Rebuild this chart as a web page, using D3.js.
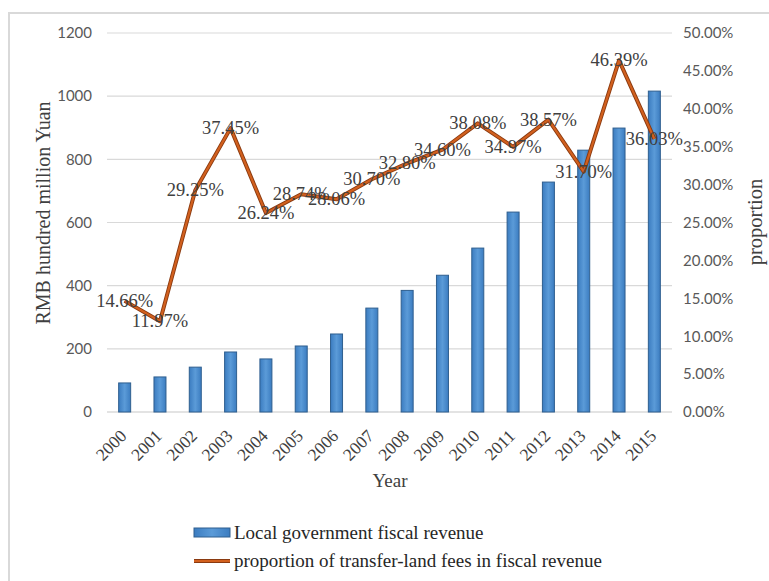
<!DOCTYPE html>
<html><head><meta charset="utf-8">
<script src="https://cdn.jsdelivr.net/npm/d3@7"></script>
<style>body{margin:0;background:#fff}</style>
</head><body>
<svg id="c" width="769" height="581"></svg>
<script>
const years = ["2000","2001","2002","2003","2004","2005","2006","2007","2008","2009","2010","2011","2012","2013","2014","2015"];
const revenue = [92,111,142,190,168,209,247,329,385,433,519,633,728,829,899,1016];
const proportion = [14.66,11.97,29.25,37.45,26.24,28.74,28.06,30.70,32.80,34.60,38.08,34.97,38.57,31.70,46.39,36.03];
const leftTicks = [0,200,400,600,800,1000,1200];
const rightTicks = [0,5,10,15,20,25,30,35,40,45,50];

const svg = d3.select("#c");
const L = 107, R = 672, T = 33, B = 412;
const x = d3.scaleBand().domain(years).range([L, R]);
const yL = d3.scaleLinear().domain([0,1200]).range([B, T]);
const yR = d3.scaleLinear().domain([0,50]).range([B, T]);
const serif = "'Liberation Serif', 'DejaVu Serif', serif";
const sans = "Lato, 'Open Sans', sans-serif";

// frame
svg.append("path").attr("d","M9,581 L9,13 L769,13").attr("fill","none").attr("stroke","#d9d9d9").attr("stroke-width",2);

// gridlines
svg.append("g").selectAll("line").data(leftTicks).join("line")
  .attr("x1",L).attr("x2",R).attr("y1",d=>yL(d)).attr("y2",d=>yL(d))
  .attr("stroke",d=>d===0?"#c8c8c8":"#d9d9d9").attr("stroke-width",1.2);

// left axis
const gl = svg.append("g").attr("transform",`translate(${L},0)`)
  .call(d3.axisLeft(yL).tickValues(leftTicks).tickSize(0).tickPadding(15).tickFormat(d3.format("d")));
gl.select(".domain").remove();
gl.selectAll("text").attr("font-family",sans).attr("font-size",15).attr("fill","#595959");

// right axis
const gr = svg.append("g").attr("transform",`translate(${R},0)`)
  .call(d3.axisRight(yR).tickValues(rightTicks).tickSize(0).tickPadding(11).tickFormat(d=>d.toFixed(2)+"%"));
gr.select(".domain").remove();
gr.selectAll("text").attr("font-family",sans).attr("font-size",15).attr("fill","#595959");

// x axis labels
const gx = svg.append("g").attr("transform",`translate(0,${B})`)
  .call(d3.axisBottom(x).tickSize(0).tickPadding(0));
gx.select(".domain").remove();
gx.selectAll("text")
  .attr("font-family",serif).attr("font-size",17.5).attr("fill","#404040")
  .attr("text-anchor","end").attr("dy",0)
  .attr("transform","translate(3,25) rotate(-45)");

// bars
const bw = 12;
const grad = svg.append("defs").append("linearGradient").attr("id","bg").attr("x1",0).attr("x2",1);
grad.append("stop").attr("offset","0%").attr("stop-color","#3b7cc0");
grad.append("stop").attr("offset","50%").attr("stop-color","#5b9bd8");
grad.append("stop").attr("offset","100%").attr("stop-color","#3b7cc0");
svg.append("g").selectAll("rect").data(revenue).join("rect")
  .attr("x",(d,i)=>x(years[i])+x.bandwidth()/2-bw/2)
  .attr("width",bw)
  .attr("y",d=>yL(d)).attr("height",d=>B-yL(d))
  .attr("fill","url(#bg)").attr("stroke","#2f5f8f").attr("stroke-width",1);

// line
const line = d3.line().x((d,i)=>x(years[i])+x.bandwidth()/2).y(d=>yR(d));
svg.append("path").datum(proportion).attr("d",line).attr("fill","none")
  .attr("stroke","#8a3a10").attr("stroke-width",4).attr("stroke-linejoin","round");
svg.append("path").datum(proportion).attr("d",line).attr("fill","none")
  .attr("stroke","#d2601e").attr("stroke-width",2.2).attr("stroke-linejoin","round");

// data labels
svg.append("g").selectAll("text").data(proportion).join("text")
  .attr("x",(d,i)=>x(years[i])+x.bandwidth()/2)
  .attr("y",d=>yR(d)+6)
  .attr("text-anchor","middle")
  .attr("font-family",serif).attr("font-size",18.5).attr("fill","#404040")
  .text(d=>d.toFixed(2)+"%");

// axis titles
svg.append("text").attr("transform",`translate(50,213) rotate(-90)`).attr("text-anchor","middle")
  .attr("font-family",serif).attr("font-size",20).attr("fill","#404040")
  .text("RMB hundred million Yuan");
svg.append("text").attr("transform",`translate(762,222) rotate(-90)`).attr("text-anchor","middle")
  .attr("font-family",serif).attr("font-size",20.5).attr("fill","#404040")
  .text("proportion");
svg.append("text").attr("x",390).attr("y",487).attr("text-anchor","middle")
  .attr("font-family",serif).attr("font-size",19).attr("fill","#404040")
  .text("Year");

// legend
const lg = svg.append("g");
lg.append("rect").attr("x",194).attr("y",528).attr("width",36).attr("height",9)
  .attr("fill","url(#bg)").attr("stroke","#2f5f8f").attr("stroke-width",1);
lg.append("text").attr("x",234).attr("y",539).attr("font-family",serif)
  .attr("font-size",19).attr("fill","#262626").text("Local government fiscal revenue");
lg.append("line").attr("x1",194).attr("x2",230).attr("y1",561).attr("y2",561).attr("stroke","#8a3a10").attr("stroke-width",4);
lg.append("line").attr("x1",194).attr("x2",230).attr("y1",561).attr("y2",561).attr("stroke","#d2601e").attr("stroke-width",2.2);
lg.append("text").attr("x",234).attr("y",567).attr("font-family",serif)
  .attr("font-size",19).attr("fill","#262626").text("proportion of transfer-land fees in fiscal revenue");
</script>
</body></html>
